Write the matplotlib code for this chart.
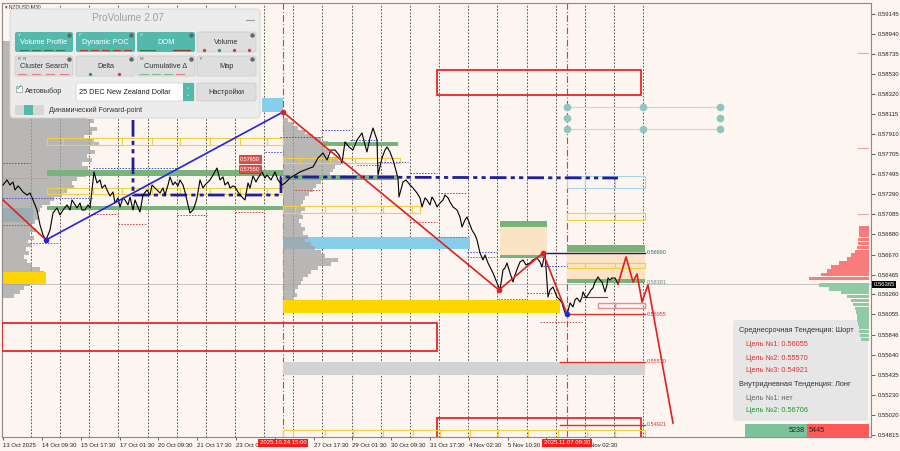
import matplotlib.pyplot as plt
from matplotlib import patches
from matplotlib.transforms import blended_transform_factory as blend

plt.rcParams['font.family'] = ['Liberation Sans', 'DejaVu Sans']

BG = '#fdf5ef'

# chart columns (time runs left to right) and NZDUSD M30 closes
t = [3, 7, 10, 13, 15, 18, 20, 23, 27, 30, 33, 35, 37, 40, 43, 46, 50, 53, 57, 60,
     63, 67, 70, 72, 77, 80, 82, 85, 88, 90, 94, 97, 100, 102, 105, 107, 110, 113, 115, 118,
     120, 123, 125, 128, 130, 133, 135, 137, 140, 143, 147, 150, 152, 155, 157, 160, 163, 165, 168, 170,
     173, 175, 178, 180, 183, 185, 188, 190, 193, 195, 197, 200, 203, 205, 208, 210, 213, 217, 220, 223,
     225, 228, 230, 233, 235, 238, 240, 243, 245, 248, 250, 253, 256, 258, 262, 265, 267, 271, 275, 278,
     282, 285, 290, 295, 300, 305, 310, 313, 318, 323, 327, 331, 335, 339, 342, 345, 349, 353, 357, 362,
     365, 367, 370, 373, 377, 378, 382, 385, 387, 390, 393, 395, 398, 399, 403, 406, 410, 413, 417, 420,
     422, 425, 427, 430, 432, 435, 437, 440, 443, 445, 448, 450, 453, 457, 460, 462, 465, 467, 470, 472,
     475, 477, 480, 483, 485, 488, 490, 493, 495, 497, 500, 503, 505, 507, 510, 513, 515, 518, 520, 523,
     526, 530, 533, 537, 540, 542, 545, 547, 548, 550, 553, 555, 557, 560, 562, 565, 567, 570, 573, 575,
     577, 580, 582, 583, 586, 588, 591, 593, 595, 598, 600, 602, 605, 607, 608, 610, 612, 615, 618]
close = [0.57386, 0.57438, 0.57386, 0.57417, 0.57335, 0.57376, 0.57355, 0.57314, 0.57283, 0.57304,
         0.57232, 0.57181, 0.57129, 0.56975, 0.56872, 0.56821, 0.56923, 0.57098, 0.57150, 0.57078,
         0.57129, 0.57181, 0.57129, 0.57232, 0.57150, 0.57201, 0.57129, 0.57129, 0.57181, 0.57150,
         0.57520, 0.57407, 0.57438, 0.57355, 0.57386, 0.57335, 0.57273, 0.57314, 0.57201, 0.57253,
         0.57160, 0.57253, 0.57232, 0.57181, 0.57263, 0.57129, 0.57232, 0.57181, 0.57109, 0.57283,
         0.57335, 0.57283, 0.57386, 0.57355, 0.57335, 0.57304, 0.57355, 0.57283, 0.57386, 0.57469,
         0.57386, 0.57417, 0.57376, 0.57438, 0.57386, 0.57314, 0.57181, 0.57098, 0.57129, 0.57181,
         0.57253, 0.57438, 0.57355, 0.57386, 0.57417, 0.57438, 0.57489, 0.57561, 0.57438, 0.57469,
         0.57386, 0.57417, 0.57355, 0.57376, 0.57366, 0.57314, 0.57283, 0.57253, 0.57232, 0.57407,
         0.57355, 0.57479, 0.57417, 0.57458, 0.57520, 0.57458, 0.57489, 0.57438, 0.57520, 0.57438,
         0.57386, 0.57407, 0.57458, 0.57489, 0.57520, 0.57541, 0.57561, 0.57571, 0.57664, 0.57715,
         0.57643, 0.57746, 0.57746, 0.57695, 0.57613, 0.57829, 0.57777, 0.57746, 0.57849, 0.57921,
         0.57798, 0.57726, 0.57870, 0.57972, 0.57849, 0.57489, 0.57664, 0.57746, 0.57777, 0.57726,
         0.57643, 0.57571, 0.57458, 0.57263, 0.57417, 0.57438, 0.57386, 0.57355, 0.57304, 0.57253,
         0.57160, 0.57253, 0.57232, 0.57181, 0.57263, 0.57211, 0.57160, 0.57201, 0.57232, 0.57283,
         0.57253, 0.57211, 0.57160, 0.57129, 0.57057, 0.56954, 0.57026, 0.57057, 0.56975, 0.56923,
         0.56872, 0.56821, 0.56687, 0.56615, 0.56666, 0.56584, 0.56543, 0.56481, 0.56430, 0.56378,
         0.56306, 0.56512, 0.56533, 0.56584, 0.56481, 0.56389, 0.56461, 0.56543, 0.56594, 0.56615,
         0.56564, 0.56584, 0.56615, 0.56636, 0.56594, 0.56543, 0.56687, 0.56378, 0.56234, 0.56306,
         0.56337, 0.56286, 0.56234, 0.56204, 0.56173, 0.56070, 0.56049, 0.56173, 0.56132, 0.56204,
         0.56224, 0.56183, 0.56234, 0.56286, 0.56224, 0.56255, 0.56306, 0.56327, 0.56389, 0.56440,
         0.56409, 0.56389, 0.56286, 0.56358, 0.56430, 0.56409, 0.56430, 0.56430, 0.56365]
price_now = 0.56365

y_ticks = [0.59145, 0.58940, 0.58735, 0.58530, 0.58320, 0.58115, 0.57910, 0.57705, 0.57495, 0.57290,
           0.57085, 0.56880, 0.56670, 0.56465, 0.56260, 0.56055, 0.55846, 0.55640, 0.55435, 0.55230,
           0.55020, 0.54815]
# labels hidden behind the red session tags in the terminal are left blank
time_pos = [3, 42, 80.8, 119.6, 158.4, 197.2, 236, 274.8, 313.6, 352.4, 391.2, 430, 468.8, 507.6, 546.4, 590]
time_labels = ['13 Oct 2025', '14 Oct 09:30', '15 Oct 17:30', '17 Oct 01:30', '20 Oct 09:30',
               '21 Oct 17:30', '23 Oct 0', '', '27 Oct 17:30', '29 Oct 01:30',
               '30 Oct 09:30', '31 Oct 17:30', '4 Nov 02:30', '5 Nov 10:30', '', 'Nov 02:30']
day_sep = [31, 60, 89, 118, 148, 177, 206, 235, 264, 293, 322, 352, 381, 410, 439, 468, 497, 527, 556, 585, 614, 643]
session_marks = [(283, '2025.10.24 15:00'), (567, '2025.11.07 09:30')]

# zigzag and forecast
zz_a_t, zz_a_p = [3, 46], [0.57232, 0.56821]
zz_b_t, zz_b_p = [46, 283], [0.56821, 0.58137]
zz_c_t, zz_c_p = [283, 499, 543, 567], [0.58137, 0.56306, 0.56687, 0.56060]
fc_t = [618, 626, 633, 637, 642, 648, 673]
fc_p = [0.56365, 0.56646, 0.56389, 0.56471, 0.56183, 0.56358, 0.54938]

# dynamic POC
poc_t = [133, 133, 281, 281, 618]
poc_p = [0.58055, 0.57283, 0.57283, 0.57469, 0.57458]

# volume profiles (bin step 0.0004, top to bottom)
vp1_start, vp1_top = 2, 0.58845
vp1 = [8, 10, 12, 14, 18, 22, 25, 30, 35, 40, 45, 50, 55, 60, 58, 65, 70, 75, 80, 85,
       92, 88, 95, 90, 82, 92, 97, 88, 93, 85, 90, 80, 86, 78, 84, 75, 70, 72, 65, 60,
       52, 48, 40, 38, 35, 36, 33, 30, 34, 28, 32, 26, 30, 24, 27, 22, 25, 30, 38, 42,
       40, 35, 28, 22, 18, 12]
vp2_start, vp2_top = 283, 0.58055
vp2 = [5, 10, 15, 22, 30, 38, 45, 42, 48, 45, 55, 58, 52, 50, 47, 42, 38, 33, 30, 26,
       22, 20, 18, 22, 18, 20, 16, 18, 22, 20, 25, 22, 28, 32, 38, 42, 55, 48, 35, 28,
       25, 20, 18, 15, 12, 14, 10, 8, 6]
dom_right = 869
dom_sell_top = 0.56944
dom_sell = [10, 10, 10, 11, 11, 12, 14, 18, 22, 30, 38, 42, 48, 60]
dom_buy_top = 0.56358
dom_buy = [50, 40, 28, 22, 18, 16, 14, 13, 12, 12, 11, 10, 10, 9, 8]
dom_marks = [0.58744, 0.57768, 0.57088]

# zones: (t0, t1, low, high)
green_zones = [(47, 283, 0.57479, 0.57541), (47, 283, 0.57129, 0.57170), (323, 398, 0.57787, 0.57829),
               (283, 398, 0.57438, 0.57489), (500, 547, 0.56954, 0.57016), (500, 543, 0.56636, 0.56666),
               (567, 645, 0.56697, 0.56769), (567, 645, 0.56378, 0.56420)]
beige_zones = [(500, 547, 0.56666, 0.56954), (567, 645, 0.56420, 0.56697)]
gold_zones = [(2, 46, 0.56368, 0.56491), (283, 560, 0.56070, 0.56204)]
blue_zones = [(2, 33, 0.57006, 0.57150), (283, 470, 0.56728, 0.56851), (262, 283, 0.58137, 0.58281)]
gray_zones = [(283, 645, 0.55433, 0.55566)]
red_boxes = [(437, 641, 0.58312, 0.58569), (2, 437, 0.55679, 0.55967), (437, 641, 0.54750, 0.54990)]

yellow_rows = [([47, 63, 93, 122, 152, 180, 210, 240, 267, 283], 0.57798, 0.57870),
               ([47, 63, 93, 122, 152, 180, 210, 240, 267, 283], 0.57294, 0.57355),
               ([283, 300, 330, 355, 385, 400], 0.57613, 0.57664),
               ([283, 295, 325, 355, 383, 412, 420], 0.57098, 0.57170),
               ([567, 585, 615, 645], 0.57026, 0.57098),
               ([567, 585, 615, 645], 0.56533, 0.56584),
               ([283, 293, 325, 353, 383, 413, 440, 470, 498, 528, 558, 587, 615, 645], 0.54760, 0.54862)]
cyan_rows = [([567, 585, 615, 645], 0.57355, 0.57479)]
pink_rows = [([598, 615, 645], 0.56121, 0.56173)]

blue_dotted = [(3, 30, 0.57613), (3, 93, 0.57253), (93, 180, 0.57561), (265, 282, 0.57726),
               (280, 322, 0.57880), (322, 350, 0.57952), (350, 378, 0.57849), (378, 408, 0.57623),
               (410, 437, 0.57510), (438, 467, 0.57304), (467, 497, 0.56697), (540, 567, 0.56553)]
red_dotted = [(3, 30, 0.56975), (30, 58, 0.56790), (88, 118, 0.57088), (118, 147, 0.56985),
              (177, 207, 0.57078), (235, 263, 0.57109), (295, 320, 0.57335), (357, 380, 0.57592),
              (410, 437, 0.57006), (438, 467, 0.56851), (467, 497, 0.56646), (498, 527, 0.56214),
              (527, 553, 0.56276), (540, 582, 0.55977)]

# target levels: (t0, t1, price, label colour, line colour)
levels = [(543, 645, 0.56690, '#2d6e6e', '#1a1a80'), (645, 645, 0.56381, '#6b8e7a', None),
          (567, 645, 0.56055, '#e03030', '#e03030'), (560, 645, 0.55570, '#e03030', '#e03030'),
          (560, 645, 0.54921, '#e03030', '#e03030')]
tag_levels = [(250, 0.57650), (250, 0.57550)]

fp_t = [567, 643, 720]
fp_p = [0.58188, 0.58075, 0.57962]

buy_vol, sell_vol = 5238, 5445

fig = plt.figure(figsize=(9, 4.51), dpi=100, facecolor=BG)
ax = fig.add_axes([2 / 900, 14 / 451, 869 / 900, 434 / 451], facecolor=BG)
ov = fig.add_axes([0, 0, 1, 1], zorder=20)
ov.set_xlim(0, 900)
ov.set_ylim(451, 0)
ov.set_axis_off()
PX = ov.transData

ax.set_xlim(2, 871)
ax.set_ylim(0.54794, 0.59258)

for x in day_sep:
    ax.axvline(x, color='#3a3a3a', lw=0.6, ls=(0, (2, 2)), zorder=1)
for x, _ in session_marks:
    ax.axvline(x, color='#e03a3a', lw=0.8, ls=(0, (6, 2, 1, 2)), zorder=1.5)
ax.axhline(price_now, color='#c4c4c4', lw=0.7, zorder=1.2)
ax.plot([2, 47], [0.57458, 0.57458], color='#e8a0a0', lw=0.7, zorder=1.2)


def fill_zones(zones, color, z=2, alpha=1.0):
    for a, b, lo, hi in zones:
        ax.add_patch(patches.Rectangle((a, lo), b - a, hi - lo, fc=color, ec='none', alpha=alpha, zorder=z))


fill_zones(beige_zones, '#fbe3c6', 1.8)
fill_zones(gray_zones, '#d2d2d2', 2)
fill_zones(blue_zones, '#87ceeb', 2)

# volume profiles
step = 0.0004
ax.barh([vp1_top - i * step for i in range(len(vp1))], vp1, left=vp1_start, height=step,
        color='#a2a2a2', alpha=0.75, lw=0, zorder=2.2)
ax.barh([vp2_top - i * step for i in range(len(vp2))], vp2, left=vp2_start, height=step,
        color='#a2a2a2', alpha=0.75, lw=0, zorder=2.2)
fill_zones(gold_zones, '#ffd500', 2.3)
fill_zones(green_zones, '#78b47a', 2.4)

for a, b, lo, hi in red_boxes:
    ax.add_patch(patches.Rectangle((a, lo), b - a, hi - lo, fill=False, ec='#e8262a', lw=1.3, zorder=3))


def seg_rows(rows, color, lw=0.8):
    for xs, lo, hi in rows:
        for a, b in zip(xs[:-1], xs[1:]):
            ax.add_patch(patches.Rectangle((a, lo), b - a, hi - lo, fill=False, ec=color, lw=lw, zorder=3))


seg_rows(yellow_rows, '#f0d040')
seg_rows(cyan_rows, '#a8d4e6')
seg_rows(pink_rows, '#e09090', 1.0)

for a, b, p in blue_dotted:
    ax.plot([a, b], [p, p], color='#4848d0', lw=0.7, ls=(0, (1.5, 1.5)), zorder=3)
for a, b, p in red_dotted:
    ax.plot([a, b], [p, p], color='#d04040', lw=0.7, ls=(0, (1.5, 1.5)), zorder=3)
ax.plot([583, 607], [0.56234, 0.56234], color='#a03030', lw=0.8, zorder=3)

# forward points
for p in [fp_p[0], fp_p[2]]:
    ax.plot([fp_t[0], fp_t[2]], [p, p], color='#d4d4d4', lw=0.8, zorder=3)
ax.plot([fp_t[0], fp_t[1], fp_t[2]], [fp_p[0]] * 3, 'o', color='#8fc7bd', ms=4.5, zorder=3.5)
ax.plot([fp_t[0], fp_t[2]], [fp_p[1]] * 2, 'o', color='#8fc7bd', ms=4.5, zorder=3.5)
ax.plot([fp_t[0], fp_t[1], fp_t[2]], [fp_p[2]] * 3, 'o', color='#8fc7bd', ms=4.5, zorder=3.5)

ax.plot(poc_t, poc_p, color='#1f1f99', lw=2.0, ls=(0, (6, 1.5, 1.5, 1.5, 1.5, 1.5)), zorder=4)

ax.plot(t, close, color='black', lw=0.8, zorder=5)

ax.plot(zz_a_t, zz_a_p, color='#e02020', lw=1.2, zorder=6)
ax.plot(zz_b_t, zz_b_p, color='#2424e0', lw=1.2, zorder=6)
ax.plot(zz_c_t, zz_c_p, color='#e02020', lw=1.2, zorder=6)
ax.plot(fc_t, fc_p, color='#e02020', lw=1.2, zorder=6)
ax.plot(zz_c_t[:3], zz_c_p[:3], 'o', color='#e02020', ms=3, zorder=6.5)
ax.plot([zz_a_t[1], zz_c_t[3]], [zz_a_p[1], zz_c_p[3]], 'o', color='#2424e0', ms=3, zorder=6.5)

for a, b, p, tc, lc in levels:
    if lc:
        ax.plot([a, b], [p, p], color=lc, lw=1.0, zorder=4.5)
    ax.text(b + 1.5, p, f'{p:.5f}', color=tc, fontsize=4, va='center', ha='left', zorder=6)
for x, p in tag_levels:
    ax.text(x, p, f'{p:.5f}', color='white', fontsize=4, ha='center', va='center', zorder=6,
            bbox=dict(boxstyle='square,pad=0.25', fc='#d9534f', ec='#b02a2a', lw=0.5))

# right side DOM
ax.barh([dom_sell_top - i * step for i in range(len(dom_sell))], [-w for w in dom_sell],
        left=dom_right, height=step * 0.9, color='#f87c7c', lw=0, zorder=8)
ax.barh([dom_buy_top - i * step for i in range(len(dom_buy))], [-w for w in dom_buy],
        left=dom_right, height=step * 0.9, color='#8fc9a6', lw=0, zorder=8)
for p in dom_marks:
    ax.plot([858, 868], [p, p], color='#f0a0a0', lw=0.8, zorder=8)

# info box
ax.add_patch(patches.FancyBboxPatch((733, 320), 135, 101, boxstyle='round,pad=0,rounding_size=3',
                                    fc='#e6e6e6', ec='none', transform=PX, zorder=7))
info = [(739, 331, 'Среднесрочная Тенденция: Шорт', '#333333'),
        (746, 345, f'Цель №1: {0.56055:.5f}', '#e03030'),
        (746, 358, f'Цель №2: {0.55570:.5f}', '#e03030'),
        (746, 371, f'Цель №3: {0.54921:.5f}', '#e03030'),
        (739, 385, 'Внутридневная Тенденция: Лонг', '#333333'),
        (746, 398, 'Цель №1: нет', '#666666'),
        (746, 411, f'Цель №2: {0.56706:.5f}', '#1e9a2a')]
for x, y, s, c in info:
    ax.text(x, y, s, color=c, fontsize=5.3, va='center', ha='left', transform=PX, zorder=8.5)
ax.add_patch(patches.Rectangle((745, 424), 62, 13, fc='#7cc29a', ec='none', transform=PX, zorder=9, clip_on=False))
ax.add_patch(patches.Rectangle((807, 424), 62, 13, fc='#ff5a5a', ec='none', transform=PX, zorder=9, clip_on=False))
ax.text(805, 430.5, str(buy_vol), fontsize=5.2, ha='right', va='center', color='#222', transform=PX, zorder=9.5)
ax.text(809, 430.5, str(sell_vol), fontsize=5.2, ha='left', va='center', color='#222', transform=PX, zorder=9.5)

# axes
for s in ax.spines.values():
    s.set_color('#8a8a8a')
    s.set_linewidth(0.8)
ax.set_yticks(y_ticks)
ax.set_yticklabels([f'{v:.5f}' for v in y_ticks])
ax.tick_params(axis='y', left=False, right=True, labelleft=False, labelright=True, length=3,
               width=0.5, pad=1.5, labelsize=4.3, colors='#222222')
ax.set_xticks(time_pos)
ax.set_xticklabels(time_labels, ha='left')
ax.tick_params(axis='x', length=2, width=0.5, pad=2.5, labelsize=4.3, colors='#222222')
ax.text(1.003, price_now, f'{price_now:.5f}', transform=blend(ax.transAxes, ax.transData), fontsize=4.3,
        color='white', va='center', ha='left', clip_on=False, zorder=10,
        bbox=dict(boxstyle='square,pad=0.2', fc='black', ec='none'))
for x, s in session_marks:
    ax.text(x, -0.0138, s, transform=blend(ax.transData, ax.transAxes), fontsize=4.3, color='white',
            ha='center', va='center', clip_on=False, zorder=10,
            bbox=dict(boxstyle='square,pad=0.25', fc='#ff1a1a', ec='none'))
ax.text(5, 7, '▾ NZDUSD,M30', transform=PX, fontsize=3.6, color='#333', va='center', zorder=10)

# ProVolume panel
ov.add_patch(patches.FancyBboxPatch((10, 9), 250, 109, boxstyle='round,pad=0,rounding_size=4',
                                    fc='#ececec', ec='#d2d2d2', lw=0.6))
ov.text(128, 18, 'ProVolume 2.07', ha='center', va='center', fontsize=7.3, color='#a0a0a0')
ov.plot([246, 254], [20, 20], color='#9a9a9a', lw=0.8)
buttons = [('Volume Profile', 15, 32, 58, True, 'V'), ('Dynamic POC', 76, 32, 59, True, 'P'),
           ('DOM', 137, 32, 58, True, 'D'), ('Volume', 197, 32, 59, False, ''),
           ('Cluster Search', 15, 56, 58, False, 'R  N'), ('Delta', 76, 56, 59, False, ''),
           ('Cumulative Δ', 137, 56, 58, False, 'M'), ('Map', 197, 56, 59, False, 'F')]
for label, x0, y0, w, on, key in buttons:
    ov.add_patch(patches.FancyBboxPatch((x0, y0), w, 20, boxstyle='round,pad=0,rounding_size=2',
                                        fc='#53b9ad' if on else '#dedede', ec='#c8c8c8' if not on else 'none', lw=0.5))
    ov.text(x0 + w / 2, y0 + 10.5, label, ha='center', va='center', fontsize=5.3,
            color='white' if on else '#333333')
    ov.text(x0 + 3, y0 + 2.8, key, fontsize=3, color='#555555' if not on else '#e0f0ee', va='center')
    ov.plot([x0 + w - 4], [y0 + 3], 'o', ms=2.2, color='#666666')
for x in [20, 32, 44, 56]:
    ov.plot([x, x + 8], [49.5, 49.5], color='#2e7d4f', lw=0.8)
for x in [80, 91, 102, 113, 124]:
    ov.plot([x, x + 7], [49.5, 49.5], color='#c0392b', lw=0.8)
ov.plot([140, 155], [49.5, 49.5], color='#2e7d4f', lw=0.8)
ov.plot([173, 190], [49.5, 49.5], color='#8b3a2a', lw=0.8)
ov.plot([204, 234, 249], [49.5] * 3, 'o', ms=1.4, color='#d04040')
ov.plot([219], [49.5], 'o', ms=1.4, color='#2e9d4f')
for x in [18, 32, 46, 60]:
    ov.plot([x, x + 8], [73.5, 73.5], color='#e08080', lw=0.8)
ov.plot([90], [73.5], 'o', ms=1.4, color='#2e9d4f')
ov.plot([119], [73.5], 'o', ms=1.4, color='#d04040')
for x, c in [(140, '#80c090'), (152, '#80c090'), (164, '#80c090'), (176, '#e08080')]:
    ov.plot([x, x + 8], [73.5, 73.5], color=c, lw=0.8)
ov.add_patch(patches.Rectangle((16, 86), 6, 6, fc='white', ec='#999999', lw=0.5))
ov.text(19, 88.5, '✓', fontsize=6, color='#2aa198', ha='center', va='center')
ov.text(25, 91, 'Автовыбор', fontsize=5.3, color='#333333', va='center')
ov.add_patch(patches.FancyBboxPatch((76, 83), 118, 18, boxstyle='round,pad=0,rounding_size=2',
                                    fc='white', ec='#cfcfcf', lw=0.5))
ov.add_patch(patches.Rectangle((183, 83), 11, 18, fc='#53b9ad', ec='none'))
ov.text(188.5, 92, '⌃\n⌄', fontsize=3.5, color='white', ha='center', va='center', linespacing=0.8)
ov.text(79, 92, '25 DEC New Zealand Dollar', fontsize=5.3, color='#222222', va='center')
ov.add_patch(patches.FancyBboxPatch((197, 83), 59, 18, boxstyle='round,pad=0,rounding_size=2',
                                    fc='#dedede', ec='#c8c8c8', lw=0.5))
ov.text(226.5, 92, 'Настройки', fontsize=5.3, color='#333333', ha='center', va='center')
ov.add_patch(patches.FancyBboxPatch((15, 105), 29, 10, boxstyle='round,pad=0,rounding_size=2',
                                    fc='#d6d6d6', ec='none'))
ov.add_patch(patches.Rectangle((24, 105), 9, 10, fc='#53b9ad', ec='none'))
ov.text(49, 110, 'Динамический Forward-point', fontsize=5, color='#333333', va='center')

fig.savefig('out.png', dpi=100, facecolor=BG)
